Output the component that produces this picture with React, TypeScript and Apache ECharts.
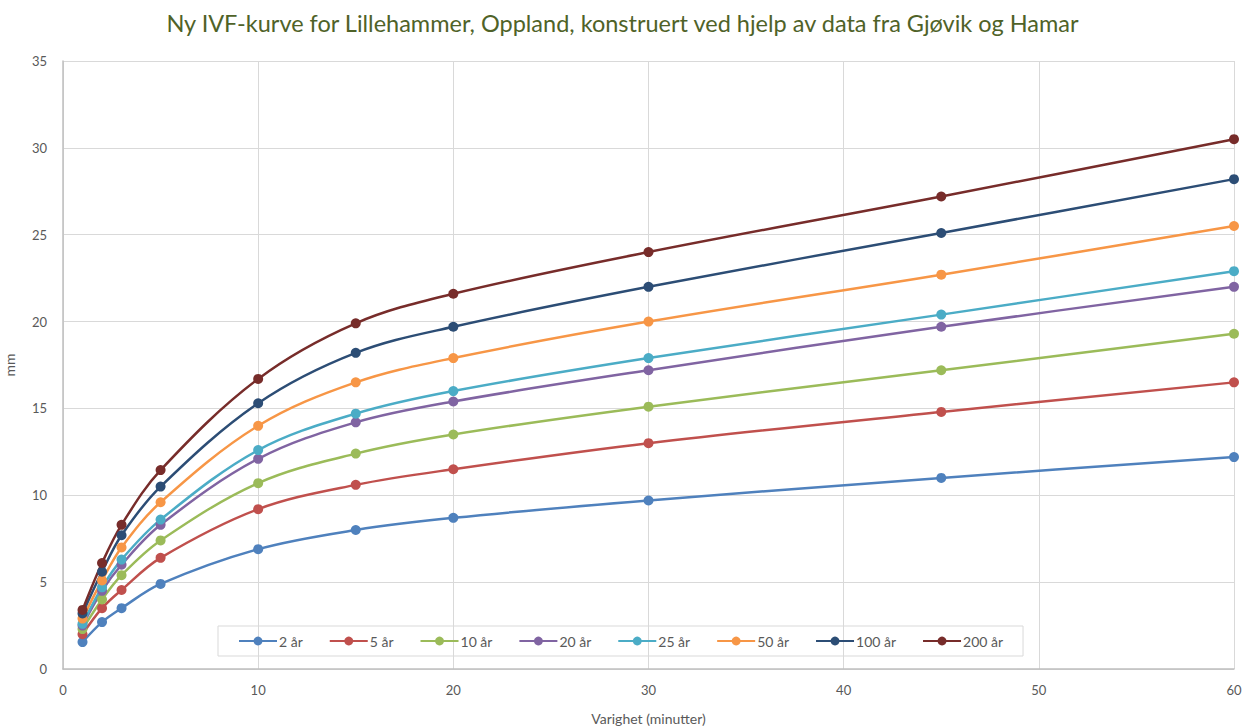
import React, { useEffect, useRef } from "react";
import * as echarts from "echarts";

const durations = [1, 2, 3, 5, 10, 15, 20, 30, 45, 60];
const seriesNames = ["2 år", "5 år", "10 år", "20 år", "25 år", "50 år", "100 år", "200 år"];
const colors = ["#4F81BD", "#C0504D", "#9BBB59", "#8064A2", "#4BACC6", "#F79646", "#2C4D75", "#772C2A"];
const v2 = [1.55, 2.7, 3.5, 4.9, 6.9, 8.0, 8.7, 9.7, 11.0, 12.2];
const v5 = [2.0, 3.5, 4.55, 6.4, 9.2, 10.6, 11.5, 13.0, 14.8, 16.5];
const v10 = [2.3, 4.0, 5.4, 7.4, 10.7, 12.4, 13.5, 15.1, 17.2, 19.3];
const v20 = [2.5, 4.5, 6.0, 8.3, 12.1, 14.2, 15.4, 17.2, 19.7, 22.0];
const v25 = [2.6, 4.7, 6.3, 8.6, 12.6, 14.7, 16.0, 17.9, 20.4, 22.9];
const v50 = [2.9, 5.1, 7.0, 9.6, 14.0, 16.5, 17.9, 20.0, 22.7, 25.5];
const v100 = [3.2, 5.6, 7.7, 10.5, 15.3, 18.2, 19.7, 22.0, 25.1, 28.2];
const v200 = [3.4, 6.1, 8.3, 11.45, 16.7, 19.9, 21.6, 24.0, 27.2, 30.5];
const allValues = [v2, v5, v10, v20, v25, v50, v100, v200];

const FONT = "Lato";

export default function App() {
  const ref = useRef<HTMLDivElement>(null);
  useEffect(() => {
    if (!ref.current) return;
    const chart = echarts.init(ref.current, undefined, { renderer: "svg" });
    chart.setOption({
      animation: false,
      backgroundColor: "#ffffff",
      textStyle: { fontFamily: FONT },
      title: {
        text: "Ny IVF-kurve for Lillehammer, Oppland, konstruert ved hjelp av data fra Gjøvik og Hamar",
        left: "center",
        top: 6,
        textStyle: { color: "#4F6228", fontSize: 23.5, fontWeight: "normal", fontFamily: FONT },
      },
      legend: {
        data: seriesNames,
        left: 218,
        top: 626,
        padding: [8, 20, 8, 20],
        borderColor: "#D9D9D9",
        borderWidth: 1,
        itemWidth: 38,
        itemHeight: 11,
        itemGap: 26,
        textStyle: { color: "#595959", fontSize: 14, fontFamily: FONT, padding: [0, 0, 0, -3] },
      },
      grid: { left: 63, right: 11, top: 61, bottom: 57, outerBoundsMode: "none", containLabel: false },
      xAxis: {
        type: "value",
        min: 0,
        max: 60,
        interval: 10,
        name: "Varighet (minutter)",
        nameLocation: "middle",
        nameGap: 42,
        nameTextStyle: { color: "#595959", fontSize: 14, fontFamily: FONT },
        axisLine: { show: true, lineStyle: { color: "#BFBFBF", width: 1.5 } },
        axisTick: { show: false },
        axisLabel: { color: "#595959", fontSize: 13, margin: 14, fontFamily: FONT },
        splitLine: { show: true, lineStyle: { color: "#D9D9D9", width: 1 } },
      },
      yAxis: {
        type: "value",
        min: 0,
        max: 35,
        interval: 5,
        name: "mm",
        nameLocation: "middle",
        nameGap: 47,
        nameRotate: 90,
        nameTextStyle: { color: "#595959", fontSize: 14, fontFamily: FONT },
        axisLine: { show: true, lineStyle: { color: "#BFBFBF", width: 1.5 } },
        axisTick: { show: false },
        axisLabel: { color: "#595959", fontSize: 13, margin: 16, fontFamily: FONT },
        splitLine: { show: true, lineStyle: { color: "#D9D9D9", width: 1 } },
      },
      series: seriesNames.map((name, i) => ({
        name,
        type: "line",
        smooth: 0.35,
        symbol: "circle",
        symbolSize: 10,
        color: colors[i],
        lineStyle: { width: 2.5, color: colors[i] },
        itemStyle: { color: colors[i] },
        data: durations.map((d, j) => [d, allValues[i][j]]),
      })),
    });
    return () => chart.dispose();
  }, []);
  return (
    <div
      ref={ref}
      style={{ position: "absolute", left: 0, top: 0, width: 1245, height: 726 }}
    />
  );
}
